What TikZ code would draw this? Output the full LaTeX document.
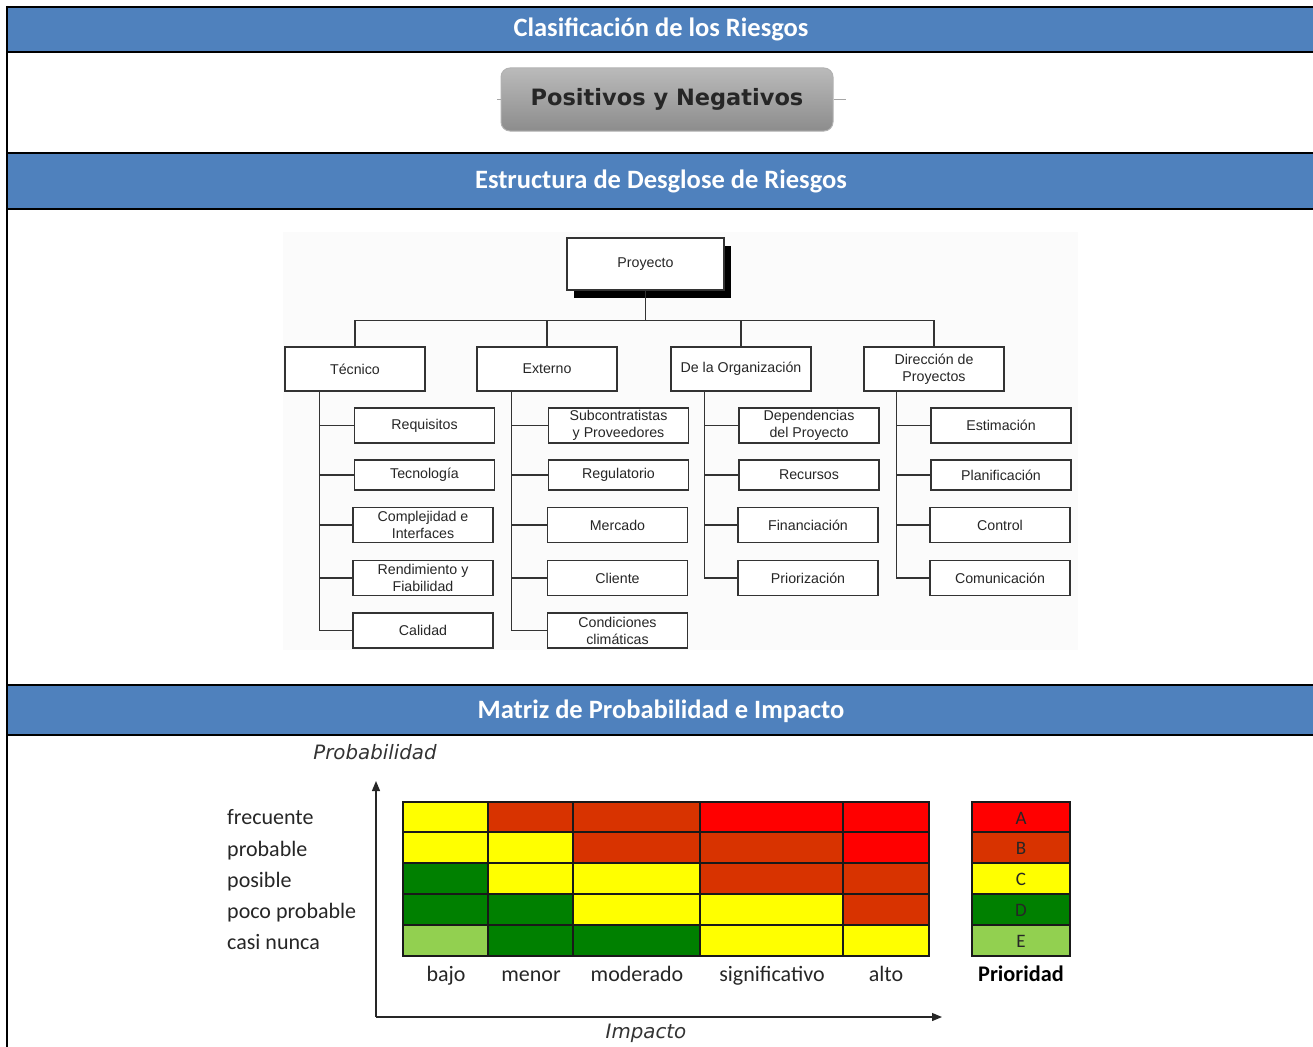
\documentclass[tikz,border=0pt]{standalone}
\usepackage{fontspec}
\setmainfont{Carlito}
\newfontfamily\rbsfont{Liberation Sans}
\newfontfamily\verdfont{DejaVu Sans}
\usetikzlibrary{arrows.meta,positioning,calc,shadows}

\definecolor{banda}{HTML}{4F81BD}
\definecolor{prioA}{HTML}{FF0000}
\definecolor{prioB}{HTML}{D83300}
\definecolor{prioC}{HTML}{FFFF00}
\definecolor{prioD}{HTML}{008000}
\definecolor{prioE}{HTML}{92D050}

\tikzset{
  titulo/.style={font=\fontsize{26.5}{30}\selectfont\bfseries, text=white},
  caja/.style={draw=black!80, line width=1.2pt, fill=white, minimum width=140pt,
    minimum height=44pt, inner sep=0pt, align=center, text=black!85,
    font=\rbsfont\fontsize{14.2}{17}\selectfont},
  subcaja/.style={caja, minimum height=35pt},
  rama/.style={line width=1.2pt, black!80},
  etiq/.style={font=\fontsize{22}{25}\selectfont, text=black!85, inner sep=0pt,
    text height=14pt, text depth=5pt},
  eje/.style={line width=1.2pt, black!85, -{Triangle[length=10pt,width=8pt]}},
  celda/.style={draw=black!90, line width=1.3pt},
}

\begin{document}
\begin{tikzpicture}[x=1pt,y=-1pt]
  \useasboundingbox (0,0) rectangle (1313,1046);
  \foreach \ya/\yb in {7/52,153/209,685/735} % bandas azules
    \filldraw[fill=banda, line width=2pt] (1320,\ya) -- (7,\ya) -- (7,\yb) -- (1320,\yb);
  \draw[line width=2pt] (7,6) -- (7,1050); % borde izquierdo

  \node[titulo] (t1) at (661,29) {Clasificación de los Riesgos};
  \node[titulo] (t2) at (661,181) {Estructura de Desglose de Riesgos};
  \node[titulo] (t3) at (661,711) {Matriz de Probabilidad e Impacto};

  \node[draw=black!30, line width=1pt, rounded corners=9pt, top color=black!27,
    bottom color=black!45, minimum width=332pt, minimum height=63pt, text=black!85,
    font=\verdfont\bfseries\fontsize{22.5}{26}\selectfont] (pyn) at (667,99.5) {Positivos y Negativos};
  \draw[black!35, line width=1.5pt] (pyn.east) -- ++(12,0);
  \draw[black!35, line width=1.5pt] (pyn.west) -- ++(-4,0);

  \fill[black!1.5] (283,232) rectangle (1078,650); % fondo del RBS

  \node[caja, minimum width=157pt, minimum height=52pt,
    drop shadow={shadow xshift=7pt, shadow yshift=-8pt, opacity=1, fill=black}] (proy) at (645.5,264) {Proyecto};
  \node[caja] (tec) at (355,369) {Técnico};
  \node[caja] (ext) at (547,369) {Externo};
  \node[caja] (org) at (741,369) {De la Organización};
  \node[caja] (dir) at (934,369) {Dirección de\\Proyectos};
  \draw[rama] (proy.south) -- ++(0,30) coordinate (bus);
  \foreach \n in {tec,ext,org,dir}
    \draw[rama] (bus) -| (\n.north);

  % Técnico
  \node[subcaja] (req) at (424.5,425.5) {Requisitos};
  \node[subcaja, minimum height=30pt] (tecn) at (424.5,475) {Tecnología};
  \node[subcaja] (comp) at (423,525) {Complejidad e\\Interfaces};
  \node[subcaja] (rend) at (423,578) {Rendimiento y\\Fiabilidad};
  \node[subcaja] (cal) at (423,630.5) {Calidad};
  % Externo
  \node[subcaja] (subc) at (618.5,425.5) {Subcontratistas\\y Proveedores};
  \node[subcaja, minimum height=30pt] (regu) at (618.5,475) {Regulatorio};
  \node[subcaja] (merc) at (617.5,525) {Mercado};
  \node[subcaja] (clie) at (617.5,578) {Cliente};
  \node[subcaja] (cond) at (617.5,630.5) {Condiciones\\climáticas};
  % De la Organización
  \node[subcaja] (dep) at (809,425.5) {Dependencias\\del Proyecto};
  \node[subcaja, minimum height=30pt] (recu) at (809,475) {Recursos};
  \node[subcaja] (fina) at (808,525) {Financiación};
  \node[subcaja] (prio) at (808,578) {Priorización};
  % Dirección de Proyectos
  \node[subcaja] (esti) at (1001,425.5) {Estimación};
  \node[subcaja, minimum height=30pt] (plan) at (1001,475) {Planificación};
  \node[subcaja] (cont) at (1000,525) {Control};
  \node[subcaja] (comu) at (1000,578) {Comunicación};

  \foreach \h in {req,tecn,comp,rend,cal}
    \draw[rama] ([xshift=35pt]tec.south west) |- (\h.west);
  \foreach \h in {subc,regu,merc,clie,cond}
    \draw[rama] ([xshift=35pt]ext.south west) |- (\h.west);
  \foreach \h in {dep,recu,fina,prio}
    \draw[rama] ([xshift=34pt]org.south west) |- (\h.west);
  \foreach \h in {esti,plan,cont,comu}
    \draw[rama] ([xshift=33pt]dir.south west) |- (\h.west);

  % matriz
  \foreach \ya/\yb/\ca/\cb/\cc/\cd/\ce in {802/832/C/B/B/A/A, 832/863/C/C/B/B/A,
      863/894/D/C/C/B/B, 894/925/D/D/C/C/B, 925/956/E/D/D/C/C} {
    \filldraw[celda, fill=prio\ca] (403,\ya) rectangle (488,\yb);
    \filldraw[celda, fill=prio\cb] (488,\ya) rectangle (573,\yb);
    \filldraw[celda, fill=prio\cc] (573,\ya) rectangle (700,\yb);
    \filldraw[celda, fill=prio\cd] (700,\ya) rectangle (843,\yb);
    \filldraw[celda, fill=prio\ce] (843,\ya) rectangle (929,\yb);
  }
  \foreach \ya/\yb/\l in {802/832/A, 832/863/B, 863/894/C, 894/925/D, 925/956/E} {
    \filldraw[celda, fill=prio\l] (972,\ya) rectangle (1070,\yb);
    \node[font=\fontsize{19}{21}\selectfont, text=black!85] (ley\l) at (1021,{(\ya+\yb)/2+1}) {\l};
  }

  \coordinate (origen) at (376,1017);
  \coordinate (ytop) at (376,781);
  \coordinate (xfin) at (942,1017);
  \draw[eje] (origen) -- (ytop);
  \draw[eje] (origen) -- (xfin);
  \node[font=\verdfont\itshape\fontsize{19.8}{23}\selectfont, text=black!80] (probab) at (375,752) {Probabilidad};
  \node[font=\verdfont\itshape\fontsize{19.8}{23}\selectfont, text=black!80] (impac) at (646,1033) {Impacto};

  \foreach \t/\y [count=\i] in {frecuente/820, probable/852, posible/883, poco probable/914, casi nunca/945}
    \node[etiq, anchor=west] (fila\i) at (227,\y) {\t};
  \foreach \t/\x [count=\i] in {bajo/446, menor/531, moderado/637, significativo/772, alto/886}
    \node[etiq] (col\i) at (\x,977) {\t};
  \node[etiq, font=\fontsize{22.3}{25}\selectfont\bfseries, text=black] (prior) at (1021,977) {Prioridad};
\end{tikzpicture}
\end{document}
